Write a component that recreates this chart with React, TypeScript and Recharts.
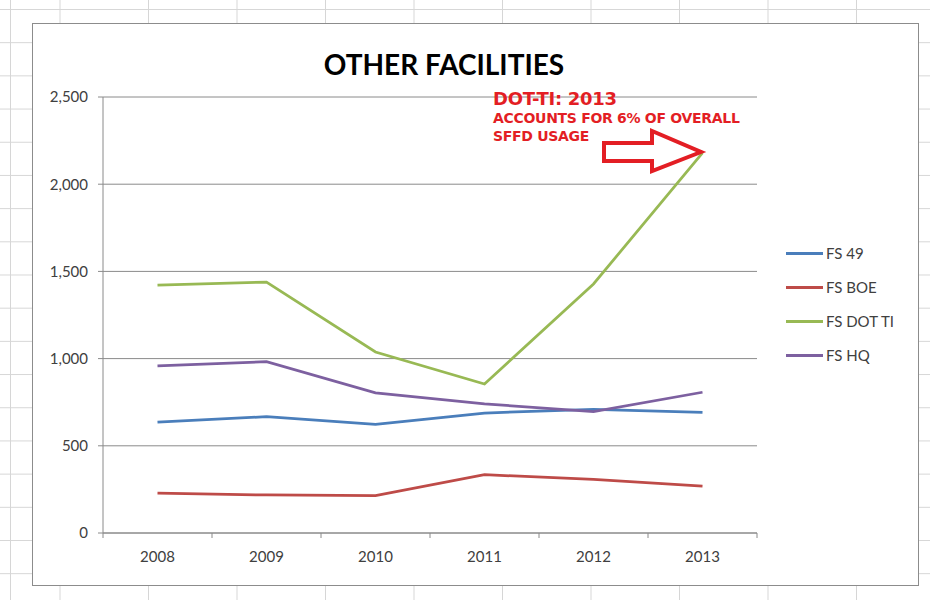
import { LineChart, Line, XAxis, YAxis, CartesianGrid, Legend } from "recharts";

const years = ["2008", "2009", "2010", "2011", "2012", "2013"];
const fs49 = [636, 667, 623, 688, 709, 692];
const fsBoe = [229, 218, 214, 334, 308, 269];
const fsDotTi = [1422, 1439, 1038, 854, 1428, 2179];
const fsHq = [958, 982, 804, 740, 696, 807];
const yTicks = [0, 500, 1000, 1500, 2000, 2500];

const seriesList = [
  { key: "fs49", name: "FS 49", color: "#4a7ebb" },
  { key: "fsBoe", name: "FS BOE", color: "#be4b48" },
  { key: "fsDotTi", name: "FS DOT TI", color: "#98b954" },
  { key: "fsHq", name: "FS HQ", color: "#7d60a0" },
];

const data = years.map((year, i) => ({
  year,
  fs49: fs49[i],
  fsBoe: fsBoe[i],
  fsDotTi: fsDotTi[i],
  fsHq: fsHq[i],
}));

const axisGray = "#8a8a8a";
const textGray = "#404040";
const font = "Lato, 'Open Sans', sans-serif";
const red = "#e31e24";

// plot area is 654px wide, 6 categories -> half a slot each side
const halfSlot = 654 / years.length / 2;
const labelGap = 18;

// Excel puts the x tick marks between categories, so draw them with the label
const YearTick = (props: any) => {
  const { x, y, payload, index } = props;
  const axisY = y - labelGap;
  const last = index === years.length - 1;
  return (
    <g>
      <line x1={x - halfSlot} y1={axisY} x2={x - halfSlot} y2={axisY + 5} stroke={axisGray} />
      {last && <line x1={x + halfSlot} y1={axisY} x2={x + halfSlot} y2={axisY + 5} stroke={axisGray} />}
      <text x={x} y={y} dy="0.71em" textAnchor="middle" fontSize={15} fill={textGray} fontFamily={font}>
        {payload.value}
      </text>
    </g>
  );
};

const renderLegend = (props: any) => (
  <div style={{ fontFamily: font, fontSize: 15, color: textGray }}>
    {(props.payload || []).map((entry: any) => (
      <div key={entry.value} style={{ display: "flex", alignItems: "center", height: 34 }}>
        <span style={{ width: 37, height: 3, background: entry.color, display: "inline-block", marginRight: 3 }} />
        <span>{entry.value}</span>
      </div>
    ))}
  </div>
);

export default function App() {
  return (
    <div
      style={{
        position: "absolute",
        left: 0,
        top: 0,
        width: 930,
        height: 600,
        overflow: "hidden",
        background: "#fff",
        backgroundImage:
          "linear-gradient(to right, #d6d6d6 1px, transparent 1px), linear-gradient(to bottom, #d6d6d6 1px, transparent 1px)",
        backgroundSize: "88.5px 100%, 100% 33.2px",
        backgroundPosition: "148px 0, 0 9px",
      }}
    >
      <div style={{ position: "absolute", left: 10, top: 0, width: 1, height: 600, background: "#d6d6d6" }} />
      <div
        style={{
          position: "absolute",
          left: 32,
          top: 23,
          width: 885,
          height: 561,
          background: "#fff",
          border: "1px solid #8c8c8c",
        }}
      />
      <div style={{ position: "absolute", left: 0, top: 0 }}>
        <LineChart width={930} height={600} data={data} margin={{ top: 97, right: 173, bottom: 66, left: 43 }}>
          <CartesianGrid vertical={false} stroke={axisGray} strokeWidth={1} />
          <XAxis
            dataKey="year"
            height={1}
            padding={{ left: halfSlot, right: halfSlot }}
            axisLine={{ stroke: axisGray }}
            tickLine={false}
            tickSize={0}
            tickMargin={labelGap}
            interval={0}
            tick={<YearTick />}
          />
          <YAxis
            width={60}
            domain={[0, 2500]}
            ticks={yTicks}
            tickFormatter={(v: number) => v.toLocaleString("en-US")}
            axisLine={{ stroke: axisGray }}
            tickLine={{ stroke: axisGray }}
            tickSize={5}
            tickMargin={10}
            tick={{ fontSize: 15, fill: textGray, fontFamily: font }}
          />
          <Legend
            layout="vertical"
            align="center"
            verticalAlign="middle"
            content={renderLegend}
            wrapperStyle={{ left: 786, top: 236, width: 130 }}
          />
          {seriesList.map((s) => (
            <Line
              key={s.key}
              type="linear"
              dataKey={s.key}
              name={s.name}
              stroke={s.color}
              strokeWidth={2.75}
              dot={false}
              activeDot={false}
              isAnimationActive={false}
            />
          ))}
        </LineChart>
      </div>
      <div
        style={{
          position: "absolute",
          left: 300,
          top: 47,
          width: 288,
          textAlign: "center",
          fontFamily: font,
          fontWeight: 700,
          fontSize: 28,
          color: "#000",
          whiteSpace: "nowrap",
        }}
      >
        OTHER FACILITIES
      </div>
      <div
        style={{
          position: "absolute",
          left: 493,
          top: 90,
          fontFamily: "'DejaVu Sans', sans-serif",
          fontWeight: 700,
          color: red,
          whiteSpace: "nowrap",
          lineHeight: 1,
        }}
      >
        <div style={{ fontSize: 18, letterSpacing: -0.3 }}>DOT-TI: 2013</div>
        <div style={{ fontSize: 14, marginTop: 3, letterSpacing: -0.3 }}>ACCOUNTS FOR 6% OF OVERALL</div>
        <div style={{ fontSize: 14, marginTop: 4, letterSpacing: -0.3 }}>SFFD USAGE</div>
      </div>
      <svg style={{ position: "absolute", left: 0, top: 0 }} width={930} height={600}>
        <polygon
          points="604,143 652,143 652,131 701,152 652,171 652,161 604,161"
          fill="#fff"
          stroke={red}
          strokeWidth={4}
          strokeLinejoin="miter"
        />
      </svg>
    </div>
  );
}
